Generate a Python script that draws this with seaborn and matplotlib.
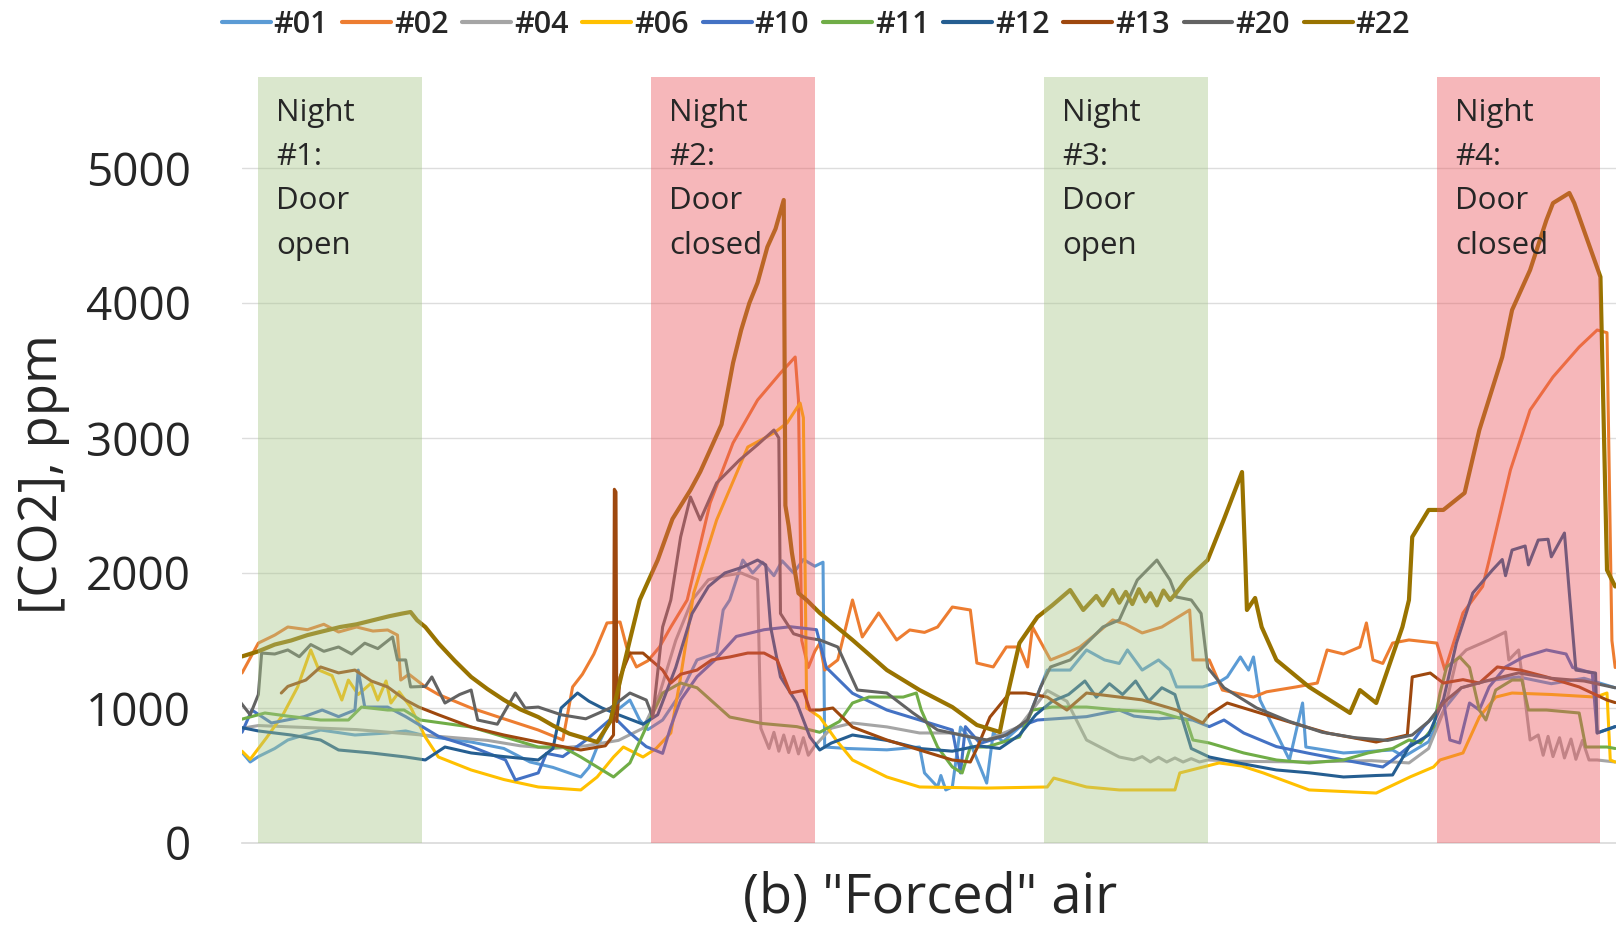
import matplotlib
matplotlib.use("Agg")
import matplotlib.pyplot as plt
import seaborn as sns
import pandas as pd

# ---------------- data (hours from start of night #1, CO2 ppm) ----------------
sensors = ['#01', '#02', '#04', '#06', '#10', '#11', '#12', '#13', '#20', '#22']
colors = ['#5B9BD5', '#ED7D31', '#A5A5A5', '#FFC000', '#4472C4',
          '#70AD47', '#255E91', '#9E480E', '#636363', '#997300']

nights = [(0, 10), (24, 34), (48, 58), (72, 82)]
night_labels = ["Night\n#1:\nDoor\nopen", "Night\n#2:\nDoor\nclosed",
                "Night\n#3:\nDoor\nopen", "Night\n#4:\nDoor\nclosed"]
night_colors = ['#A8C68A', '#EB555C', '#A8C68A', '#EB555C']
y_ticks = [0, 1000, 2000, 3000, 4000, 5000]

h01 = [-1.0, -0.5, 0.0, 1.0, 1.8, 3.8, 5.9, 7.9, 9.0, 10.0, 11.0, 13.0, 15.0, 16.6, 18.0, 19.7, 20.2, 20.7, 21.7, 22.7,
       23.3, 23.8, 24.7, 25.8, 26.8, 28.0, 28.4, 28.8, 29.2, 29.6, 30.2, 30.8, 31.5, 32.0, 32.7, 33.3, 34.0, 34.5, 34.6, 36.0,
       38.4, 40.4, 40.7, 41.5, 41.7, 42.0, 42.4, 42.9, 43.3, 44.5, 44.9, 45.5, 47.0, 48.2, 49.6, 50.6, 51.7, 52.6, 53.1, 54.0,
       55.0, 55.7, 56.1, 57.7, 58.8, 59.2, 60.0, 60.5, 60.8, 61.2, 63.0, 63.8, 64.0, 66.3, 69.3, 70.0, 71.5, 72.5, 73.5, 75.0,
       77.0, 79.0, 81.0, 82.9]
c01 = [672, 600, 640, 700, 763, 837, 800, 815, 830, 800, 780, 748, 700, 600, 560, 489, 560, 711, 963, 1059,
       911, 840, 911, 1109, 1356, 1407, 1726, 1800, 1948, 2096, 2000, 2080, 1980, 2090, 2000, 2100, 2050, 2080, 711, 700,
       690, 711, 519, 415, 500, 393, 415, 859, 800, 444, 815, 750, 911, 1281, 1281, 1430, 1356, 1330, 1430, 1281,
       1356, 1281, 1156, 1156, 1200, 1230, 1378, 1281, 1378, 1059, 615, 1037, 711, 667, 689, 640, 750, 1000, 1150, 1200,
       1230, 1180, 1220, 1150]

h02 = [-1.0, 0, 1.0, 1.8, 3.0, 4.0, 4.9, 6.0, 7.0, 7.9, 8.5, 8.7, 9.2, 10.2, 11, 13, 15, 17.1, 18.6, 19.2,
       19.8, 20.5, 21.3, 22.1, 22.5, 23.1, 23.8, 24.5, 25.2, 26.2, 27.6, 29.0, 30.5, 31.9, 32.8, 33.0, 33.2, 33.6, 34.0, 34.3,
       34.6, 35.4, 36.3, 36.9, 37.9, 39.0, 39.8, 40.7, 41.5, 42.4, 43.5, 43.9, 44.9, 45.7, 46.5, 47.0, 47.3, 48.4, 49.3, 50.2,
       51.2, 52.2, 53.0, 54.0, 55.2, 56.9, 57.1, 58.1, 58.9, 60.8, 61.6, 63.4, 64.7, 65.3, 66.3, 67.3, 67.7, 68.1, 68.7, 69.3,
       70.3, 72.0, 72.5, 73.6, 74.8, 75.2, 76.5, 77.7, 79.1, 80.7, 81.8, 82.4, 82.7, 82.9]
c02 = [1259, 1481, 1540, 1600, 1580, 1620, 1563, 1600, 1570, 1578, 1540, 1207, 1250, 1156, 1100, 1000, 920, 837, 763, 1156,
       1250, 1400, 1630, 1637, 1452, 1304, 1350, 1450, 1600, 1800, 2518, 2963, 3281, 3481, 3600, 3281, 1500, 1300, 1420, 1480,
       1281, 1356, 1800, 1526, 1704, 1504, 1578, 1560, 1600, 1748, 1726, 1333, 1304, 1452, 1452, 1304, 1600, 1356, 1400, 1452,
       1550, 1652, 1620, 1556, 1600, 1726, 1356, 1356, 1133, 1081, 1120, 1156, 1185, 1430, 1400, 1452, 1630, 1356, 1330, 1481,
       1504, 1481, 1281, 1704, 1900, 2096, 2763, 3207, 3452, 3674, 3800, 3780, 1500, 1300]

h04 = [-1.0, 0, 2, 4, 6, 8, 10, 12, 14, 16, 18, 20, 22, 23.5, 24.5, 25.5, 26.5, 27.5, 28.5, 29.5,
       30.5, 30.7, 31.2, 31.5, 31.8, 32.1, 32.4, 32.7, 33.0, 33.3, 33.6, 34.0, 35.0, 36.3, 38.4, 40.4, 42.4, 44.5, 46.5, 48.2,
       49.4, 50.6, 52.6, 53.5, 54.0, 54.5, 55.0, 55.5, 56.0, 56.5, 57.0, 57.5, 58.0, 60.0, 64.0, 68.0, 70.3, 71.5, 72.5, 73.2,
       73.8, 75.2, 76.2, 76.4, 77.0, 77.3, 77.7, 78.2, 78.5, 78.8, 79.1, 79.5, 79.8, 80.2, 80.5, 80.9, 81.3, 81.8, 82.9]
c04 = [850, 870, 860, 850, 840, 820, 800, 780, 760, 720, 700, 720, 760, 850, 1100, 1500, 1800, 1950, 1980, 2000,
       1950, 850, 700, 820, 680, 800, 670, 790, 660, 780, 650, 720, 850, 889, 860, 815, 815, 763, 862, 1130,
       1050, 763, 637, 615, 640, 600, 635, 600, 630, 600, 625, 600, 615, 605, 600, 610, 593, 700, 1000, 1356,
       1430, 1504, 1563, 1356, 1430, 1156, 763, 800, 650, 790, 640, 780, 630, 770, 620, 760, 615, 615, 600]

h06 = [-1.0, -0.5, 0.5, 1.5, 2.4, 3.2, 3.7, 4.5, 5.1, 5.5, 6.1, 6.9, 7.3, 7.8, 8.1, 8.6, 9.3, 10.2, 11.0, 13.0,
       15.0, 17.1, 19.7, 20.7, 21.7, 22.3, 23.5, 24.3, 25.2, 25.8, 26.6, 28.0, 29.9, 31.5, 32.3, 33.1, 33.3, 33.5, 34.3, 35.3,
       36.3, 38.4, 40.4, 44.5, 48.2, 48.6, 50.6, 52.6, 56.0, 56.3, 58.7, 60.1, 61.4, 64.2, 68.3, 70.4, 71.8, 72.2, 73.6, 74.6,
       75.6, 76.6, 79.0, 81.7, 82.4, 82.6, 82.9]
c06 = [680, 620, 780, 950, 1156, 1430, 1281, 1240, 1059, 1207, 1100, 1185, 1059, 1200, 1037, 1120, 1007, 785, 637, 541,
       470, 415, 393, 489, 637, 711, 637, 700, 815, 1230, 1852, 2393, 2933, 3037, 3111, 3259, 3150, 1000, 933, 763,
       615, 489, 415, 407, 415, 481, 415, 393, 393, 519, 593, 570, 519, 393, 370, 491, 563, 615, 667, 933,
       1081, 1111, 1100, 1081, 1111, 615, 600]

h10 = [-1.0, -0.4, 0.8, 2.8, 3.9, 4.9, 5.9, 6.1, 6.5, 7.9, 9.0, 11.0, 13.0, 15.1, 15.7, 17.1, 17.6, 18.6, 20.0, 21.7,
       22.7, 23.7, 24.7, 25.2, 25.8, 26.8, 27.9, 29.2, 30.9, 32.5, 34.1, 34.7, 36.3, 38.4, 40.4, 42.4, 42.9, 43.2, 44.1, 45.5,
       46.5, 47.6, 50.6, 52.6, 53.5, 55.0, 56.1, 57.1, 58.1, 59.0, 60.2, 62.2, 64.2, 66.3, 68.7, 69.3, 70.3, 71.2, 71.8, 72.4,
       72.8, 73.4, 74.0, 74.6, 75.2, 76.2, 77.3, 78.7, 79.9, 80.3, 81.5, 81.8, 82.9]
c10 = [820, 985, 889, 936, 985, 936, 985, 1281, 1007, 1007, 936, 790, 714, 615, 467, 519, 664, 640, 760, 936,
       815, 714, 664, 862, 1059, 1232, 1356, 1530, 1580, 1602, 1580, 1300, 1109, 985, 911, 837, 519, 862, 738, 790,
       862, 911, 936, 985, 940, 920, 930, 910, 862, 911, 815, 714, 664, 615, 563, 615, 714, 862, 936, 1059,
       763, 741, 1037, 985, 1156, 1304, 1378, 1430, 1400, 1300, 1259, 815, 862]

h11 = [-1.2, 0.4, 1.8, 3.8, 5.5, 6.3, 7.9, 8.9, 9.9, 13.0, 17.1, 18.6, 19.7, 21.7, 22.7, 23.7, 24.7, 25.8, 26.8, 28.8,
       30.8, 32.9, 34.3, 35.5, 36.3, 37.3, 39.4, 40.2, 40.5, 41.5, 42.4, 43.0, 43.5, 44.5, 46.5, 47.3, 48.5, 50.6, 52.6, 55.0,
       56.7, 57.1, 58.1, 60.2, 62.2, 64.2, 66.3, 67.8, 69.3, 70.3, 71.0, 71.8, 72.2, 72.6, 73.4, 74.0, 74.6, 75.0, 75.6, 76.6,
       77.2, 77.6, 78.7, 80.7, 81.1, 82.4, 82.9]
c11 = [911, 963, 940, 911, 911, 1007, 985, 985, 911, 859, 711, 711, 637, 489, 593, 859, 1111, 1185, 1150, 933,
       885, 862, 820, 900, 1037, 1081, 1081, 1111, 985, 711, 563, 519, 711, 711, 785, 985, 1007, 1007, 985, 970,
       911, 763, 741, 667, 615, 593, 615, 667, 700, 763, 741, 859, 1111, 1304, 1378, 1300, 985, 911, 1133, 1207,
       1207, 985, 985, 963, 711, 711, 700]

h12 = [-1.2, 0, 1.0, 2.0, 3.8, 4.9, 6.9, 9.0, 10.2, 11.4, 13.0, 15.0, 17.1, 18.0, 18.5, 19.5, 20.2, 21.0, 22.0, 23.5,
       24.4, 25.5, 26.5, 27.5, 28.5, 29.6, 30.5, 31.0, 31.3, 31.9, 32.9, 33.7, 34.3, 35.0, 36.3, 38.4, 40.4, 42.4, 44.0, 45.3,
       46.5, 47.5, 48.5, 49.5, 50.5, 51.2, 52.0, 52.8, 53.6, 54.4, 55.2, 56.0, 56.5, 57.0, 58.1, 60.0, 62.2, 64.2, 66.3, 68.3,
       69.3, 70.3, 71.5, 72.4, 73.2, 74.2, 75.4, 76.0, 76.2, 76.6, 77.4, 77.6, 78.2, 78.8, 79.0, 79.8, 80.1, 80.5, 81.7, 81.8,
       82.9]
c12 = [859, 830, 815, 800, 763, 689, 667, 637, 615, 711, 667, 640, 615, 700, 1000, 1111, 1050, 1000, 950, 880,
       950, 1300, 1700, 1900, 2000, 2044, 2096, 2060, 1600, 1230, 1037, 785, 689, 740, 800, 760, 700, 680, 720, 700,
       800, 950, 1050, 1100, 1200, 1080, 1180, 1100, 1200, 1050, 1150, 1100, 900, 700, 637, 590, 541, 520, 489, 500,
       504, 711, 800, 1059, 1481, 1852, 2022, 2100, 1980, 2170, 2200, 2060, 2244, 2250, 2120, 2296, 1852, 1281, 1259, 815,
       862]

h13 = [1.4, 1.8, 2.9, 3.8, 4.9, 5.9, 6.9, 7.9, 9.0, 9.8, 11.0, 13.0, 15.0, 17.1, 19.7, 21.2, 21.7, 21.75, 21.85, 21.9,
       22.1, 22.7, 23.5, 24.7, 25.2, 25.8, 26.8, 27.7, 28.8, 29.9, 30.9, 31.7, 32.5, 33.3, 33.7, 34.3, 35.1, 36.3, 38.4, 40.4,
       42.4, 43.5, 43.9, 44.7, 45.9, 46.9, 48.2, 49.4, 50.6, 52.6, 54.0, 56.1, 57.7, 58.1, 59.2, 61.2, 63.2, 65.3, 68.3, 69.5,
       70.2, 70.5, 71.6, 72.4, 73.6, 74.6, 75.7, 77.1, 78.7, 80.7, 82.4, 82.9]
c13 = [1111, 1160, 1207, 1304, 1260, 1281, 1200, 1156, 1059, 1007, 950, 859, 800, 748, 689, 720, 800, 2620, 2600, 900,
       1230, 1407, 1407, 1281, 1185, 1250, 1281, 1356, 1378, 1407, 1407, 1356, 1111, 1130, 985, 985, 1000, 859, 763, 689,
       615, 600, 700, 933, 1111, 1111, 1081, 985, 1111, 1081, 1060, 985, 889, 950, 1037, 963, 889, 815, 748, 780,
       800, 1230, 1259, 1185, 1210, 1185, 1304, 1281, 1230, 1156, 1059, 1040]

h20 = [-1.2, -0.5, 0.0, 0.2, 1.0, 1.8, 2.5, 3.2, 4.0, 4.9, 5.7, 6.5, 7.3, 8.2, 8.5, 9.0, 9.3, 10.2, 10.6, 11.4,
       12.3, 13.0, 13.4, 14.6, 15.7, 16.3, 17.1, 18.5, 20.0, 21.5, 22.7, 23.7, 24.1, 24.7, 25.2, 25.8, 26.4, 27.0, 28.0, 29.4,
       30.5, 31.5, 31.8, 31.9, 32.7, 33.5, 34.3, 35.4, 36.6, 38.4, 40.0, 41.5, 43.5, 44.5, 45.7, 47.0, 47.8, 48.4, 49.6, 51.6,
       52.6, 53.7, 54.9, 55.7, 56.1, 57.0, 57.6, 58.0, 59.0, 61.0, 63.0, 65.0, 67.0, 69.0, 70.5, 71.5, 72.5, 73.5, 75.0, 77.0,
       79.0, 81.0, 82.9]
c20 = [1059, 950, 1100, 1407, 1400, 1430, 1380, 1470, 1420, 1452, 1400, 1480, 1440, 1526, 1356, 1356, 1156, 1160, 1230, 1037,
       1100, 1133, 911, 880, 1111, 1000, 1007, 950, 920, 1000, 1111, 1059, 933, 1600, 1800, 2267, 2563, 2393, 2667, 2837,
       2950, 3059, 3000, 1700, 1550, 1520, 1504, 1452, 1133, 1111, 963, 837, 785, 763, 800, 911, 1156, 1304, 1356, 1600,
       1652, 1948, 2096, 1948, 1822, 1800, 1700, 1300, 1150, 1000, 900, 820, 780, 760, 800, 900, 1050, 1150, 1200, 1260,
       1220, 1200, 1150]

h22 = [-1.0, 0, 1, 2, 3, 4, 5, 6, 7, 8, 8.8, 9.3, 9.7, 10.2, 11, 12, 13, 14, 15, 16,
       17.1, 18, 19, 20.7, 21.5, 22, 22.7, 23.3, 24.4, 25.3, 26.4, 27.0, 27.6, 28.3, 29.0, 29.5, 30.0, 30.5, 31.1, 31.6,
       32.1, 32.2, 32.4, 32.6, 32.8, 33.0, 33.5, 34.3, 36.3, 38.4, 40.4, 42.4, 43.9, 45.3, 45.7, 46.5, 47.6, 48.5, 49.6, 50.4,
       51.2, 51.6, 52.2, 52.6, 53.0, 53.4, 53.8, 54.2, 54.5, 54.9, 55.3, 55.7, 56.0, 56.7, 58.0, 59.0, 60.1, 60.3, 60.4, 60.9,
       61.3, 62.2, 64.2, 66.7, 67.3, 68.3, 69.9, 70.3, 70.5, 71.5, 72.4, 73.7, 74.6, 76.0, 76.6, 77.7, 78.7, 79.1, 80.1, 80.4,
       82.0, 82.4, 82.9]
c22 = [1382, 1420, 1470, 1500, 1540, 1570, 1600, 1620, 1650, 1680, 1700, 1711, 1650, 1600, 1480, 1350, 1230, 1140, 1060, 990,
       933, 870, 810, 748, 900, 1150, 1504, 1800, 2096, 2400, 2615, 2750, 2911, 3100, 3555, 3800, 4000, 4150, 4415, 4550,
       4763, 2500, 2350, 2150, 2000, 1850, 1800, 1704, 1504, 1281, 1133, 1007, 874, 822, 1059, 1481, 1674, 1760, 1874, 1726,
       1830, 1760, 1874, 1780, 1860, 1770, 1880, 1790, 1850, 1760, 1870, 1800, 1840, 1948, 2096, 2400, 2748, 2096, 1726, 1815,
       1600, 1356, 1156, 963, 1133, 1037, 1600, 1800, 2267, 2467, 2467, 2593, 3059, 3600, 3948, 4244, 4615, 4740, 4815, 4740,
       4193, 2022, 1900]

series = {'#01': (h01, c01), '#02': (h02, c02), '#04': (h04, c04), '#06': (h06, c06),
          '#10': (h10, c10), '#11': (h11, c11), '#12': (h12, c12), '#13': (h13, c13),
          '#20': (h20, c20), '#22': (h22, c22)}

frames = []
for name in sensors:
    hh, cc = series[name]
    frames.append(pd.DataFrame({'hour': hh, 'ppm': cc, 'sensor': name}))
df = pd.concat(frames, ignore_index=True)

# ---------------- figure ----------------
sns.set_theme(style='white')
plt.rcParams['font.family'] = ['Open Sans', 'DejaVu Sans']

W, H = 1616, 931
fig = plt.figure(figsize=(W / 100, H / 100), dpi=100)
ax_left, ax_right, ax_bottom, ax_top = 242, 1616, 843, 77
ax = fig.add_axes([ax_left / W, 1 - ax_bottom / H, (ax_right - ax_left) / W, (ax_bottom - ax_top) / H])

palette = dict(zip(sensors, colors))
for name in sensors:
    sub = df[df['sensor'] == name]
    sns.lineplot(data=sub, x='hour', y='ppm', color=palette[name], ax=ax,
                 estimator=None, sort=False, lw=3.0 if name == '#22' else 2.2,
                 label=name, zorder=2, legend=False)

for (s, e), col, lab in zip(nights, night_colors, night_labels):
    ax.axvspan(s, e, color=col, alpha=0.42, lw=0, zorder=3)
    ax.text(s + 1.1, 5520, lab, ha='left', va='top', fontsize=22.5,
            linespacing=1.62, color='#262626', zorder=6)

ax.set_xlim(-1, 82.95)
ax.set_ylim(0, (ax_bottom - ax_top) / 0.135)
ax.set_yticks(y_ticks)
ax.set_yticklabels([str(v) for v in y_ticks])
ax.set_xticks([])
for v in y_ticks[1:]:
    ax.axhline(v, color='#DDDDDD', lw=1.0, zorder=1)
ax.tick_params(axis='y', length=0, pad=37, labelsize=33, labelcolor='#262626')
for side in ['top', 'right', 'left']:
    ax.spines[side].set_visible(False)
ax.spines['bottom'].set_color('#D9D9D9')
ax.spines['bottom'].set_linewidth(1.2)

ax.set_xlabel('(b) "Forced" air', fontsize=39, color='#262626', va='center')
ax.xaxis.set_label_coords((930 - ax_left) / (ax_right - ax_left), -(898 - ax_bottom) / (ax_bottom - ax_top))
ax.set_ylabel('[CO2], ppm', fontsize=38, color='#262626', va='center')
ax.yaxis.set_label_coords(-(242 - 43) / (ax_right - ax_left), (843 - 474) / (ax_bottom - ax_top))

handles, labels = ax.get_legend_handles_labels()
leg = fig.legend(handles, labels, loc='center', bbox_to_anchor=(816 / W, 1 - 25 / H), ncol=10,
                 frameon=False, fontsize=22, handlelength=1.6, handletextpad=0.1, columnspacing=0.45,
                 prop={'weight': 'semibold', 'size': 22})
for t in leg.get_texts():
    t.set_color('#262626')
for l in leg.get_lines():
    l.set_linewidth(3)

fig.savefig('out.png', dpi=100, facecolor='white')
